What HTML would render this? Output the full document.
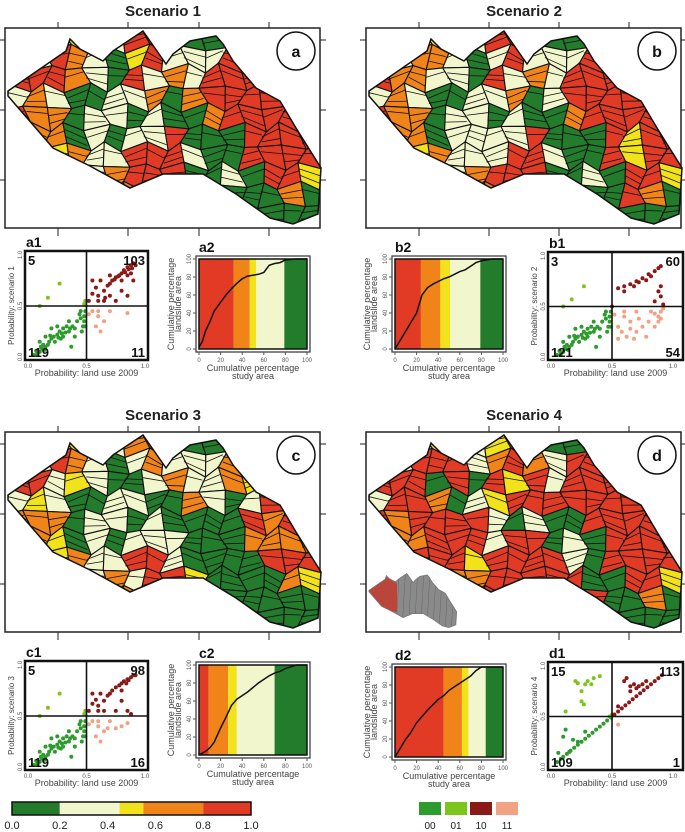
<!DOCTYPE html>
<html><head><meta charset="utf-8">
<style>
html,body{margin:0;padding:0;background:#fff;}
svg{display:block;font-family:"Liberation Sans",Arial,sans-serif;}
</style></head>
<body>
<svg id="fig" width="685" height="832" viewBox="0 0 685 832" xmlns="http://www.w3.org/2000/svg">
<defs>
<clipPath id="outlineClip"><polygon id="outlinePoly" points=""/></clipPath>
</defs>
</svg>
<script>
// ---------- DATA ----------
const scenarioTitles = ["Scenario 1","Scenario 2","Scenario 3","Scenario 4"];
const mapLetters = ["a","b","c","d"];
const map1 = ["CCCYCCRRCGGCCCCC","CCROCGYRCCCRCCCC","RRROCGRCOCRRRCCC","COCGGCCOGORRRRCC","ROOGCCGCGGORRRRC","ROOGCGCCRGGGRRRR","RYYOCCRRRCGGRRRR","RYOOCORRRGGCGRRY","CCCOCOORRCCGGGOG","CCCCCCCCCCCGGGGG"];
const map2 = ["CCCYCCRRCGGCCCCC","CCOOCGCRCCCRCCCC","ROOCCGRCOCRRRCCC","COCGGCCOGCRRRRCC","ROOGCCGCGGORRRRC","ROOGCCCCRGGGRYRR","RYYOCCCRRCGGRYRR","RYOOCORRRGGCGRRY","CCCOCOORRCRGGROG","CCCCCCCCCCRGGGGG"];
const map3 = ["CCCYCCOOCGGCCCCC","CCROCGCOCCCOCCCC","RRCYCGGCOCCOYCCC","CYCGGCCGGOCGCRCC","OOOGCCGCGGGGRORC","ROYGCGCCCGGGOOOO","RYYOCCRRCGGGGRRR","RYYOCOCRRYGGGGOY","CCCOCOORROYGGGGG","CCCCCCCCCCCGGGGG"];
const map4 = ["CCCYCCYOCGGCCCCC","CCRRRCOROCRRCCCC","RRRGRGRYRCRRRCCC","CRROGCYRRRRRRRCC","RORRRRCGCGGRRRRC","ROORRRCRRGCGRRRR","RRRRRYRRRRCGRRRR","RRRROORRRRRGGRRY","CCCOCORRRRORGGOG","CCCCCCCCCCCGGGGG"];

const cumX = [0,3,6,10,14,20,25,30,35,40,45,50,55,60,65,70,75,80,90,100];
const cumA = [2,8,20,30,42,52,60,67,73,78,81,82,83,85,93,95,96,99,100,100];
const cumB = [0,6,12,20,28,40,60,68,72,75,78,80,83,86,88,92,96,98,100,100];
const cumC = [0,2,4,8,14,30,42,55,62,66,70,75,80,84,88,91,93,96,100,100];
const cumD = [0,6,12,20,26,38,45,52,58,64,68,74,78,82,86,90,96,100,100,100];
const bandsA = [0,32,47,53,79,100];
const bandsB = [0,24,42,51,79,100];
const bandsC = [0,9,27,35,70,100];
const bandsD = [0,45,62,68,84,100];

const a1_00 = [[0.1,0.05],[0.12,0.08],[0.15,0.1],[0.08,0.03],[0.13,0.12],[0.18,0.15],[0.2,0.18],[0.22,0.2],[0.25,0.22],[0.27,0.25],[0.3,0.2],[0.3,0.28],[0.33,0.3],[0.35,0.25],[0.38,0.3],[0.4,0.28],[0.42,0.35],[0.45,0.38],[0.48,0.4],[0.47,0.3],[0.49,0.45],[0.45,0.45],[0.2,0.28],[0.15,0.2],[0.25,0.3],[0.28,0.18],[0.35,0.35],[0.4,0.2],[0.48,0.35],[0.1,0.15],[0.17,0.12],[0.23,0.15],[0.32,0.24],[0.05,0.02],[0.07,0.06],[0.11,0.1],[0.14,0.07],[0.19,0.21],[0.26,0.19],[0.29,0.23],[0.36,0.28],[0.44,0.42],[0.46,0.25],[0.49,0.3],[0.37,0.1]];
const a1_01 = [[0.27,0.72],[0.17,0.58],[0.1,0.5],[0.48,0.52],[0.49,0.55]];
const a1_10 = [[0.55,0.75],[0.6,0.6],[0.65,0.65],[0.7,0.72],[0.75,0.78],[0.8,0.82],[0.85,0.88],[0.9,0.92],[0.88,0.9],[0.82,0.85],[0.78,0.8],[0.72,0.75],[0.68,0.7],[0.6,0.55],[0.65,0.55],[0.7,0.6],[0.75,0.55],[0.8,0.65],[0.85,0.6],[0.9,0.75],[0.88,0.82],[0.55,0.62],[0.52,0.55],[0.58,0.68],[0.62,0.75],[0.8,0.75],[0.85,0.8],[0.92,0.9],[0.7,0.8],[0.66,0.58],[0.83,0.83],[0.86,0.86],[0.89,0.87],[0.77,0.79],[0.74,0.76]];
const a1_11 = [[0.55,0.45],[0.6,0.4],[0.65,0.35],[0.58,0.3],[0.62,0.25],[0.7,0.45],[0.85,0.43],[0.52,0.42],[0.6,0.45]];
const b1_00 = a1_00;
const b1_01 = [[0.27,0.7],[0.17,0.57],[0.1,0.5]];
const b1_10 = [[0.55,0.68],[0.6,0.7],[0.65,0.72],[0.7,0.75],[0.75,0.78],[0.8,0.82],[0.85,0.85],[0.9,0.9],[0.88,0.88],[0.82,0.8],[0.78,0.76],[0.72,0.74],[0.68,0.7],[0.88,0.65],[0.9,0.6],[0.85,0.55],[0.92,0.52],[0.9,0.7],[0.6,0.65],[0.5,0.5]];
const b1_11 = [[0.55,0.3],[0.6,0.4],[0.65,0.35],[0.58,0.25],[0.62,0.2],[0.7,0.45],[0.85,0.43],[0.52,0.42],[0.6,0.45],[0.7,0.25],[0.75,0.3],[0.8,0.35],[0.85,0.3],[0.88,0.4],[0.9,0.45],[0.92,0.48],[0.88,0.35],[0.78,0.2],[0.72,0.38],[0.82,0.45],[0.9,0.38],[0.65,0.28],[0.68,0.18],[0.55,0.18]];
const c1_00 = a1_00;
const c1_01 = a1_01;
const c1_10 = [[0.55,0.72],[0.6,0.6],[0.65,0.65],[0.7,0.72],[0.75,0.78],[0.8,0.82],[0.85,0.86],[0.9,0.9],[0.88,0.88],[0.82,0.84],[0.78,0.8],[0.72,0.75],[0.68,0.7],[0.6,0.55],[0.65,0.55],[0.75,0.55],[0.8,0.65],[0.85,0.55],[0.88,0.52],[0.55,0.62],[0.52,0.55],[0.58,0.66],[0.62,0.72],[0.8,0.75],[0.92,0.9],[0.86,0.85],[0.84,0.82]];
const c1_11 = [[0.55,0.45],[0.6,0.4],[0.65,0.35],[0.58,0.3],[0.62,0.25],[0.7,0.45],[0.85,0.43],[0.52,0.42],[0.6,0.45],[0.75,0.38],[0.8,0.4],[0.68,0.38]];
const d1_00 = [[0.05,0.05],[0.08,0.08],[0.1,0.1],[0.13,0.13],[0.16,0.16],[0.19,0.19],[0.22,0.22],[0.25,0.25],[0.28,0.28],[0.31,0.31],[0.34,0.34],[0.37,0.37],[0.4,0.4],[0.43,0.43],[0.46,0.46],[0.49,0.49],[0.12,0.37],[0.18,0.27],[0.15,0.15],[0.1,0.3],[0.22,0.25],[0.28,0.35],[0.06,0.14]];
const d1_01 = [[0.12,0.55],[0.2,0.85],[0.22,0.83],[0.25,0.75],[0.28,0.82],[0.3,0.85],[0.25,0.65],[0.27,0.62],[0.35,0.88],[0.4,0.9],[0.33,0.82],[0.48,0.5],[0.5,0.52]];
const d1_10 = [[0.52,0.52],[0.55,0.55],[0.58,0.58],[0.61,0.61],[0.64,0.64],[0.67,0.67],[0.7,0.7],[0.73,0.73],[0.76,0.76],[0.79,0.79],[0.82,0.82],[0.85,0.85],[0.88,0.88],[0.91,0.91],[0.6,0.85],[0.62,0.88],[0.65,0.8],[0.68,0.82],[0.7,0.78],[0.72,0.8],[0.75,0.82],[0.78,0.85],[0.55,0.6],[0.65,0.75]];
const d1_11 = [[0.55,0.42]];
const countsA = ["5","103","119","11"];
const countsB = ["3","60","121","54"];
const countsC = ["5","98","119","16"];
const countsD = ["15","113","109","1"];
const colorbarBreaks = [0.0,0.2,0.45,0.55,0.8,1.0];
const colorbarTicks = ["0.0","0.2","0.4","0.6","0.8","1.0"];
const legendCodes = ["00","01","10","11"];

// ---------- STYLE ----------
const COL = {R:"#e13b26",O:"#f08418",Y:"#f2e21a",C:"#f2f6cc",G:"#237b2c"};
const bandCols = [COL.R,COL.O,COL.Y,COL.C,COL.G];
const ptCols = ["#2d9b2d","#7cc51c","#8a1a18","#f2a284"];
const outline = [[0,62],[58,22],[62,10],[72,20],[95,32],[105,22],[135,2],[158,35],[165,25],[182,12],[208,7],[215,15],[225,32],[248,59],[272,72],[288,99],[313,139],[310,185],[285,195],[262,189],[228,165],[195,145],[155,145],[122,159],[82,137],[45,119],[0,67]];
const NS="http://www.w3.org/2000/svg";
const svg=document.getElementById('fig');
function mk(tag,attrs,parent){const e=document.createElementNS(NS,tag);for(const k in attrs)e.setAttribute(k,attrs[k]);(parent||svg).appendChild(e);return e;}
function txt(s,x,y,attrs,parent){const e=mk('text',Object.assign({x:x,y:y},attrs),parent);e.textContent=s;return e;}
document.getElementById('outlinePoly').setAttribute('points',outline.map(p=>p.join(',')).join(' '));

// ---------- MAPS ----------
function drawMap(ox,oy,grid,letter,title,tickXs,idx){
  const g=mk('g',{});
  
  
  const t=txt(title,ox+158,oy-12,{'font-size':15,'font-weight':'bold','text-anchor':'middle',fill:'#222'},g);
  
  
  mk('rect',{x:ox,y:oy,width:315,height:200,fill:'#fff',stroke:'#222','stroke-width':1.5},g);
  tickXs.forEach(x=>{mk('line',{x1:x,y1:oy-6,x2:x,y2:oy,stroke:'#222'},g);mk('line',{x1:x,y1:oy+200,x2:x,y2:oy+208,stroke:'#222'},g);});
  [12,82,152].forEach(y=>{mk('line',{x1:ox-6,y1:oy+y,x2:ox,y2:oy+y,stroke:'#222'},g);mk('line',{x1:ox+315,y1:oy+y,x2:ox+321,y2:oy+y,stroke:'#222'},g);});
  const inner=mk('g',{transform:`translate(${ox+3},${oy+1})`,'clip-path':'url(#outlineClip)'},g);
  const w=313/16,h=196/10;
  const vx=(i,j)=>i*w+(i>0&&i<16?5*Math.sin(i*1.7+j*2.3):0);
  const vy=(i,j)=>j*h+(j>0&&j<10?5*Math.cos(i*2.9+j*1.3):0);
  for(let j=0;j<10;j++)for(let i=0;i<16;i++){
    const c=COL[grid[j][i]];
    const pts=[[vx(i,j),vy(i,j)],[vx(i+1,j),vy(i+1,j)],[vx(i+1,j+1),vy(i+1,j+1)],[vx(i,j+1),vy(i,j+1)]];
    const cell=mk('polygon',{points:pts.map(p=>p.map(v=>v.toFixed(1)).join(',')).join(' '),fill:c,stroke:'#111','stroke-width':1.1},inner);
    
    
    const a=(pts[0][1]*2+pts[3][1])/3, b=(pts[0][1]+pts[3][1]*2)/3;
    const a2=(pts[1][1]*2+pts[2][1])/3, b2=(pts[1][1]+pts[2][1]*2)/3;
    const xl=(pts[0][0]+pts[3][0])/2, xr=(pts[1][0]+pts[2][0])/2;
    mk('line',{x1:xl,y1:a,x2:xr,y2:a2+2*Math.sin(i+j),stroke:'#111','stroke-width':0.8},inner);
    if((i+j)%2===0)mk('line',{x1:xl,y1:b,x2:xr,y2:b2-2*Math.cos(i*j),stroke:'#111','stroke-width':0.8},inner);
  }
  mk('polygon',{points:outline.map(p=>p.join(',')).join(' '),fill:'none',stroke:'#111','stroke-width':1.5,transform:`translate(${ox+3},${oy+1})`},g);
  const cg=mk('g',{},g);
  
  
  mk('circle',{cx:ox+291,cy:oy+23,r:19,fill:'#fff',stroke:'#111','stroke-width':1.5},cg);
  txt(letter,ox+291,oy+29,{'font-size':16,'font-weight':'bold','text-anchor':'middle',fill:'#111'},cg);
  return g;
}
drawMap(5,28,map1,'a',scenarioTitles[0],[58,128,199,269],0);
drawMap(366,28,map2,'b',scenarioTitles[1],[419,489,559,629],1);
drawMap(5,432,map3,'c',scenarioTitles[2],[58,128,199,269],2);
drawMap(366,432,map4,'d',scenarioTitles[3],[419,489,559,629],3);

// inset on map d
(function(){
  const g=mk('g',{transform:'translate(369,573) scale(0.28)'});
  
  
  const cl=mk('g',{'clip-path':'url(#outlineClip)'},g);
  mk('rect',{x:0,y:0,width:320,height:200,fill:'#8a8a8a'},cl);
  mk('polygon',{points:'0,62 58,22 62,10 72,20 95,32 100,40 100,140 82,137 45,119 0,67',fill:'#d03020',opacity:0.8},cl);
  for(let k=0;k<14;k++)mk('line',{x1:20+k*22,y1:0,x2:8+k*22,y2:200,stroke:'#6a6a6a','stroke-width':2},cl);
  mk('polygon',{points:outline.map(p=>p.join(',')).join(' '),fill:'none',stroke:'#777','stroke-width':3},g);
})();

// ---------- SCATTER ----------
function drawScatter(x0,x1,yTop,yBot,label,yTitle,groups,counts){
  const g=mk('g',{});
  
  
  const px0=x0+3,px1=x1-3-(x1-x0>125?7:0),py0=yBot-3,py1=yTop+4;
  const sx=v=>px0+v*(px1-px0), sy=v=>py0-v*(py0-py1);
  mk('rect',{x:x0,y:yTop,width:x1-x0,height:yBot-yTop,fill:'#fff',stroke:'#111','stroke-width':2.5},g);
  groups.forEach((pts,gi)=>pts.forEach(p=>{
    const c=mk('circle',{cx:sx(p[0]).toFixed(1),cy:sy(p[1]).toFixed(1),r:2,fill:ptCols[gi]},g);
    
    
  }));
  mk('line',{x1:sx(0.5),y1:yTop,x2:sx(0.5),y2:yBot,stroke:'#111','stroke-width':1.6},g);
  mk('line',{x1:x0,y1:sy(0.5),x2:x1,y2:sy(0.5),stroke:'#111','stroke-width':1.6},g);
  txt(label,x0+1,yTop-4,{'font-size':14,'font-weight':'bold',fill:'#111'},g);
  txt(counts[0],x0+3,yTop+14,{'font-size':13,'font-weight':'bold',fill:'#111'},g);
  txt(counts[1],x1-3,yTop+14,{'font-size':13,'font-weight':'bold',fill:'#111','text-anchor':'end'},g);
  txt(counts[2],x0+3,yBot-3,{'font-size':13,'font-weight':'bold',fill:'#111'},g);
  txt(counts[3],x1-3,yBot-3,{'font-size':13,'font-weight':'bold',fill:'#111','text-anchor':'end'},g);
  ["0.0","0.5","1.0"].forEach((s,k)=>{
    const v=k*0.5;
    txt(s,sx(v),yBot+8,{'font-size':6,'text-anchor':'middle',fill:'#555'},g);
    txt(s,0,0,{'font-size':6,'text-anchor':'middle',fill:'#555',transform:`translate(${x0-3},${sy(v)}) rotate(-90)`},g);
  });
  const xt=txt('Probability: land use 2009',(x0+x1)/2,yBot+16,{'font-size':9,'text-anchor':'middle',fill:'#444'},g);
  
  
  const yt=txt(yTitle,0,0,{'font-size':8,'text-anchor':'middle',fill:'#444',transform:`translate(${x0-11},${(yTop+yBot)/2}) rotate(-90)`},g);
  
  
}
drawScatter(25,148,251,360,'a1','Probability: scenario 1',[a1_00,a1_01,a1_10,a1_11],countsA);
drawScatter(548,683,252,360,'b1','Probability: scenario 2',[b1_00,b1_01,b1_10,b1_11],countsB);
drawScatter(25,148,661,770,'c1','Probability: scenario 3',[c1_00,c1_01,c1_10,c1_11],countsC);
drawScatter(548,683,662,770,'d1','Probability: scenario 4',[d1_00,d1_01,d1_10,d1_11],countsD);

// ---------- CUMULATIVE ----------
function drawCum(fx,fy,label,bands,ys){
  const g=mk('g',{});
  
  
  const W=114,H=96;
  mk('rect',{x:fx,y:fy,width:W,height:H,fill:'#fff',stroke:'#333','stroke-width':1.2},g);
  const ix0=fx+3,ix1=fx+W-3,iy0=fy+H-3,iy1=fy+3;
  const sx=v=>ix0+v/100*(ix1-ix0), sy=v=>iy0-v/100*(iy0-iy1);
  for(let k=0;k<5;k++){
    const b=mk('rect',{x:sx(bands[k]),y:iy1,width:sx(bands[k+1])-sx(bands[k]),height:iy0-iy1,fill:bandCols[k]},g);
    
    
  }
  mk('rect',{x:ix0,y:iy1,width:ix1-ix0,height:iy0-iy1,fill:'none',stroke:'#111','stroke-width':1.5},g);
  const line=mk('polyline',{points:cumX.map((x,k)=>sx(x).toFixed(1)+','+sy(ys[k]).toFixed(1)).join(' '),fill:'none',stroke:'#111','stroke-width':1.5},g);
  
  
  [0,20,40,60,80,100].forEach(v=>{
    mk('line',{x1:sx(v),y1:fy+H,x2:sx(v),y2:fy+H+3,stroke:'#555'},g);
    txt(String(v),sx(v),fy+H+10,{'font-size':6,'text-anchor':'middle',fill:'#555'},g);
    mk('line',{x1:fx-3,y1:sy(v),x2:fx,y2:sy(v),stroke:'#555'},g);
    txt(String(v),0,0,{'font-size':6,'text-anchor':'middle',fill:'#555',transform:`translate(${fx-5},${sy(v)}) rotate(-90)`},g);
  });
  txt(label,fx+3,fy-4,{'font-size':14,'font-weight':'bold',fill:'#111'},g);
  const xt=mk('text',{x:fx+W/2,y:fy+H+19,'font-size':9,'text-anchor':'middle',fill:'#444'},g);
  
  
  xt.innerHTML='<tspan x="'+(fx+W/2)+'">Cumulative percentage</tspan><tspan x="'+(fx+W/2)+'" dy="8">study area</tspan>';
  const yt=mk('text',{'font-size':9,'text-anchor':'middle',fill:'#444',transform:`translate(${fx-22},${fy+H/2}) rotate(-90)`},g);
  
  
  yt.innerHTML='<tspan x="0">Cumulative percentage</tspan><tspan x="0" dy="7">landslide area</tspan>';
}
drawCum(196,256,'a2',bandsA,cumA);
drawCum(392,256,'b2',bandsB,cumB);
drawCum(196,662,'c2',bandsC,cumC);
drawCum(392,664,'d2',bandsD,cumD);

// ---------- LEGENDS ----------
(function(){
  const g=mk('g',{});
  
  
  const x0=12,x1=251,sx=v=>x0+v*(x1-x0);
  for(let k=0;k<5;k++){
    const r=mk('rect',{x:sx(colorbarBreaks[k]),y:802,width:sx(colorbarBreaks[k+1])-sx(colorbarBreaks[k]),height:13,fill:bandCols[4-k]},g);
    
    
  }
  mk('rect',{x:x0,y:802,width:x1-x0,height:13,fill:'none',stroke:'#111','stroke-width':1.5},g);
  colorbarTicks.forEach((s,k)=>txt(s,sx(k*0.2),829,{'font-size':11,'text-anchor':'middle',fill:'#222'},g));
  const lg=mk('g',{});
  
  
  const lx=[419,445,470,496];
  legendCodes.forEach((s,k)=>{
    const e=mk('rect',{x:lx[k],y:802,width:22,height:13,fill:ptCols[k]},lg);
    
    
    txt(s,lx[k]+11,829,{'font-size':10,'text-anchor':'middle',fill:'#222'},lg);
  });
})();
</script>
</body></html>
